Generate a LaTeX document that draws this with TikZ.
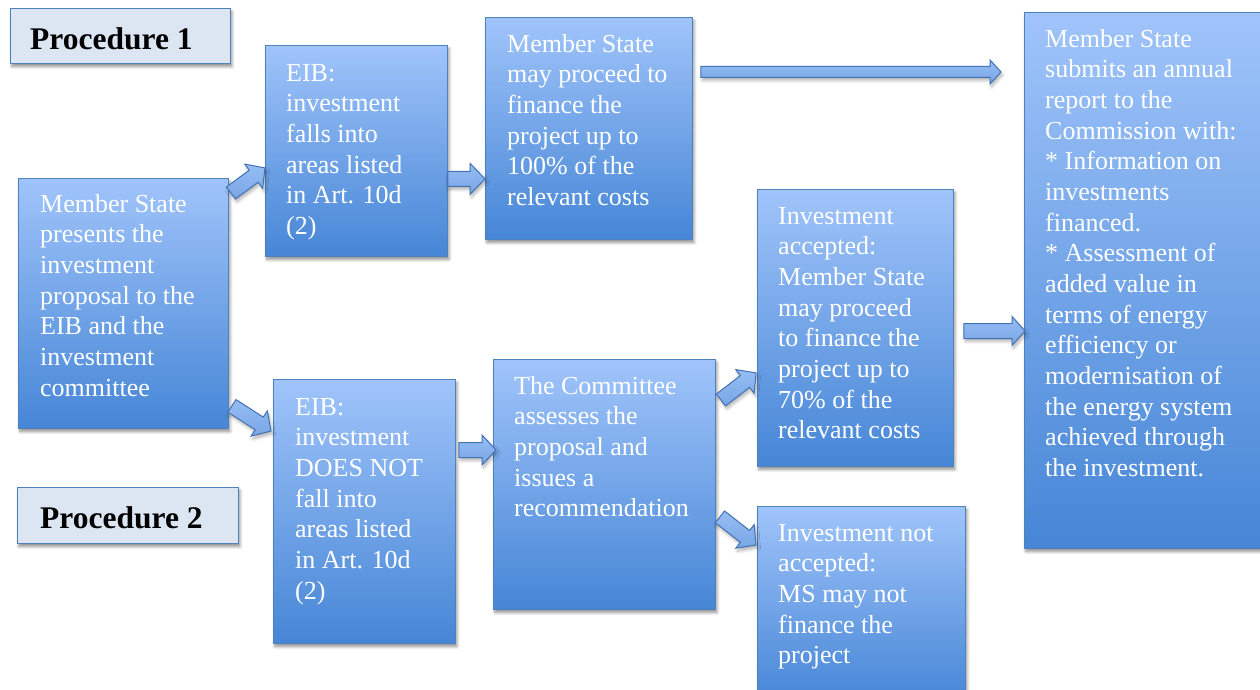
\documentclass[tikz,border=0pt]{standalone}
\usepackage{fontspec}
\setmainfont{Liberation Serif}
\usetikzlibrary{calc,shadows.blur}

\definecolor{boxtop}{RGB}{160,196,250}
\definecolor{boxbot}{RGB}{70,134,214}
\definecolor{boxline}{RGB}{79,129,189}
\definecolor{labelfill}{RGB}{220,230,242}
\definecolor{arrowtop}{RGB}{150,190,245}
\definecolor{arrowbot}{RGB}{120,165,228}
\definecolor{arrowline}{RGB}{66,114,180}

\tikzset{
  softshadow/.style={blur shadow={shadow xshift=1.5pt, shadow yshift=-3pt,
      shadow blur steps=6, shadow blur radius=3pt, shadow opacity=#1}},
  flowbox/.style={draw=boxline, line width=0.9pt, top color=boxtop,
      bottom color=boxbot, anchor=north west, inner sep=0, softshadow=45},
  labelbox/.style={draw=boxline, line width=0.9pt, fill=labelfill,
      anchor=north west, inner sep=0, softshadow=45},
  flowtext/.style={anchor=north west, inner sep=0, text=white, align=left,
      font=\fontsize{26}{30.67}\selectfont},
  labeltext/.style={anchor=base west, inner sep=0,
      font=\bfseries\fontsize{31.5}{36}\selectfont},
  blockarrow/.style={draw=arrowline, line width=1pt, top color=arrowtop,
      bottom color=arrowbot, line join=miter, softshadow=30},
}

% Block arrow from (#1-s) to (#1-e): #2 half shaft width,
% #3 half head width, #4 head length
\newcommand\flowarrow[4]{%
  \coordinate (#1-h) at ($(#1-e)!#4!(#1-s)$);
  \draw[blockarrow]
    ($(#1-s)!#2!90:(#1-e)$) -- ($(#1-h)!#2!-90:(#1-s)$)
    -- ($(#1-h)!#3!-90:(#1-s)$) -- (#1-e)
    -- ($(#1-h)!#3!90:(#1-s)$) -- ($(#1-h)!#2!90:(#1-s)$)
    -- ($(#1-s)!#2!-90:(#1-e)$) -- cycle;
}

\begin{document}
\begin{tikzpicture}[x=1pt,y=1pt]
\useasboundingbox (0,0) rectangle (1260,-690);

% procedure labels
\node[labelbox, minimum width=220pt, minimum height=55pt] (P1) at (10,-8) {};
\node[labeltext] (P1t) at (30,-49.3) {Procedure 1};
\node[labelbox, minimum width=221pt, minimum height=56pt] (P2) at (17,-487) {};
\node[labeltext] (P2t) at (40,-528.3) {Procedure 2};

% process boxes
\node[flowbox, minimum width=210pt, minimum height=250pt] (A) at (18,-178) {};
\node[flowbox, minimum width=182pt, minimum height=211pt] (B) at (265,-45) {};
\node[flowbox, minimum width=207pt, minimum height=222pt] (C) at (485,-17) {};
\node[flowbox, minimum width=250pt, minimum height=536pt] (D) at (1024,-12) {};
\node[flowbox, minimum width=182pt, minimum height=264pt] (E) at (273,-379) {};
\node[flowbox, minimum width=222pt, minimum height=250pt] (F) at (493,-359) {};
\node[flowbox, minimum width=196pt, minimum height=277pt] (G) at (757,-189) {};
\node[flowbox, minimum width=208pt, minimum height=195pt] (H) at (757,-506) {};

% box texts
\node[flowtext] (At) at (40,-190.5) {\strut Member State\\presents the\\investment\\proposal to the\\EIB and the\\investment\\committee};
\node[flowtext] (Bt) at (286,-59.5) {\strut EIB:\\investment\\falls into\\areas listed\\in Art. 10d\\(2)};
\node[flowtext] (Ct) at (507,-30.5) {\strut Member State\\may proceed to\\finance the\\project up to\\100\% of the\\relevant costs};
\node[flowtext] (Dt) at (1045,-25.5) {\strut Member State\\submits an annual\\report to the\\Commission with:\\* Information on\\investments\\financed.\\* Assessment of\\added value in\\terms of energy\\efficiency or\\modernisation of\\the energy system\\achieved through\\the investment.};
\node[flowtext] (Et) at (295,-393.5) {\strut EIB:\\investment\\DOES NOT\\fall into\\areas listed\\in Art. 10d\\(2)};
\node[flowtext] (Ft) at (514,-372.5) {\strut The Committee\\assesses the\\proposal and\\issues a\\recommendation};
\node[flowtext] (Gt) at (778,-202.5) {\strut Investment\\accepted:\\Member State\\may proceed\\to finance the\\project up to\\70\% of the\\relevant costs};
\node[flowtext] (Ht) at (778,-519.5) {\strut Investment not\\accepted:\\MS may not\\finance the\\project};

% connectors
\coordinate (ab-s) at ($(A.north east)+(2,-15)$);
\coordinate (ab-e) at ($(B.south west)+(0,89)$);
\flowarrow{ab}{7.5pt}{15pt}{14pt}

\coordinate (ae-s) at ($(A.south east)+(3,23)$);
\coordinate (ae-e) at ($(E.north west)+(-2,-52)$);
\flowarrow{ae}{7.5pt}{15pt}{14pt}

\coordinate (bc-s) at ($(B.south east)+(0,78)$);
\coordinate (bc-e) at ($(C.south west)+(0,61)$);
\flowarrow{bc}{7.5pt}{15.5pt}{15pt}

\coordinate (cd-s) at ($(C.north east)+(8,-55)$);
\coordinate (cd-e) at ($(D.north west)+(-23,-60)$);
\flowarrow{cd}{5.5pt}{12pt}{11pt}

\coordinate (ef-s) at ($(E.north east)+(3,-71)$);
\coordinate (ef-e) at ($(F.north west)+(3,-91)$);
\flowarrow{ef}{7.5pt}{15pt}{14pt}

\coordinate (fg-s) at ($(F.north east)+(5,-41)$);
\coordinate (fg-e) at ($(G.south west)+(-1,94)$);
\flowarrow{fg}{7.5pt}{15pt}{14pt}

\coordinate (fh-s) at ($(F.south east)+(4,93)$);
\coordinate (fh-e) at ($(H.north west)+(-1,-39)$);
\flowarrow{fh}{7.5pt}{15pt}{14pt}

\coordinate (gd-s) at ($(G.north east)+(10,-142)$);
\coordinate (gd-e) at ($(D.north west)+(1,-319)$);
\flowarrow{gd}{7.5pt}{14.5pt}{13pt}
\end{tikzpicture}
\end{document}
